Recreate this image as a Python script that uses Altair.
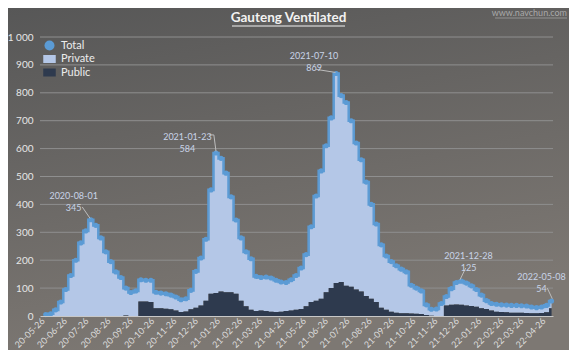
import altair as alt
import pandas as pd

# ---------------- data (weekly readings, Saturdays) ----------------
first_week = "2020-05-30"
total = [5, 8, 22, 50, 95, 145, 200, 262, 305, 345,
         325, 280, 230, 195, 158, 138, 100, 84, 90, 130,
         128, 128, 85, 82, 80, 75, 68, 58, 62, 92,
         160, 208, 275, 452, 584, 565, 512, 427, 344, 280,
         230, 205, 142, 138, 140, 136, 128, 122, 120, 130,
         145, 172, 220, 320, 430, 520, 610, 710, 869, 790,
         765, 700, 620, 560, 480, 400, 330, 255, 215, 195,
         180, 168, 158, 110, 100, 90, 40, 24, 25, 45,
         70, 98, 120, 125, 118, 108, 95, 75, 55, 45,
         42, 40, 39, 38, 38, 37, 36, 32, 30, 32,
         38, 54]
public = [0, 0, 0, 0, 0, 0, 0, 0, 0, 0,
          0, 0, 0, 0, 0, 0, 2, 0, 0, 52,
          52, 50, 28, 28, 26, 24, 20, 14, 16, 24,
          30, 38, 55, 80, 82, 88, 85, 85, 80, 55,
          35, 22, 18, 20, 18, 15, 14, 15, 18, 20,
          22, 25, 35, 50, 55, 62, 85, 100, 118, 122,
          108, 105, 95, 88, 72, 62, 50, 30, 22, 15,
          12, 10, 10, 9, 8, 7, 4, 1, 0, 0,
          38, 40, 41, 40, 38, 36, 33, 28, 25, 20,
          15, 14, 13, 12, 12, 12, 11, 10, 10, 11,
          13, 28]

series_names = ["Total", "Private", "Public"]
series_colors = ["#5b9bd5", "#b4c7e7", "#2e3a4e"]
RECT = "M-1.25,-0.8H1.25V0.8H-1.25Z"
series_shapes = ["circle", RECT, RECT]

y_ticks = [0, 100, 200, 300, 400, 500, 600, 700, 800, 900, 1000]

ann_dates = ["2020-08-01", "2021-01-23", "2021-07-10", "2021-12-28", "2022-05-08"]
ann_values = [345, 584, 869, 125, 54]
ann_label_dates = ["2020-07-08", "2020-12-14", "2021-06-09", "2022-01-11", "2022-04-23"]
ann_label_values = [430, 641, 933, 215, 140]

leader_ids = [1, 1, 2, 2, 2, 3, 3, 4, 4, 5, 5]
leader_dates = ["2020-07-20", "2020-07-31",
                "2021-01-13", "2021-01-20", "2021-01-23",
                "2021-06-12", "2021-07-09",
                "2022-01-07", "2021-12-30",
                "2022-05-01", "2022-05-08"]
leader_values = [391, 350,
                 649, 649, 590,
                 884, 873,
                 172, 130,
                 100, 62]

# ---------------- tables ----------------
dates = pd.date_range(first_week, periods=len(total), freq="7D")
df = pd.DataFrame({
    "date": dates,
    "total": total,
    "public": public,
})
ann_df = pd.DataFrame({
    "date": pd.to_datetime(ann_dates),
    "value": ann_values,
    "ldate": pd.to_datetime(ann_label_dates),
    "lvalue": ann_label_values,
    "label": [d + "\n" + str(v) for d, v in zip(ann_dates, ann_values)],
})
lead_df = pd.DataFrame({
    "id": leader_ids,
    "seq": list(range(len(leader_ids))),
    "date": pd.to_datetime(leader_dates),
    "value": leader_values,
})
grid_df = pd.DataFrame({"v": y_ticks[1:]})

W, H = 513, 279
PAD = {"left": 32, "top": 29, "right": 16, "bottom": 34}
FONT = "Lato"

tick_months = pd.date_range("2020-05-26", "2022-04-26", freq=pd.DateOffset(months=1))
x_tick_values = [alt.DateTime(year=int(t.year), month=int(t.month), date=int(t.day)) for t in tick_months]

xscale = alt.Scale(domain=[alt.DateTime(year=2020, month=5, date=22),
                           alt.DateTime(year=2022, month=5, date=9)])
yscale = alt.Scale(domain=[0, 1000], nice=False)

xaxis = alt.Axis(title=None, values=x_tick_values, format="%y-%m-%d", labelAngle=315,
                 labelAlign="right", labelBaseline="middle", labelPadding=3,
                 labelColor="#dcdcdc", labelFont=FONT, labelFontSize=9,
                 ticks=False, domain=True, domainColor="#c8c8c8", domainWidth=1,
                 grid=False, zindex=1, labelOverlap=False, labelBound=False)
yaxis = alt.Axis(title=None, values=y_ticks, grid=False, ticks=False, domain=False,
                 labelColor="#e6e6e6", labelFont=FONT, labelFontSize=10, labelPadding=7,
                 labelExpr="replace(format(datum.value, ','), ',', ' ')", zindex=1,
                 labelOverlap=False)


def X(field, **kw):
    return alt.X(field, scale=xscale, axis=xaxis, **kw)


def Y(field, **kw):
    return alt.Y(field, scale=yscale, axis=yaxis, **kw)


color_scale = alt.Scale(domain=series_names, range=series_colors)
shape_scale = alt.Scale(domain=series_names, range=series_shapes)
legend = alt.Legend(title=None, orient="none", legendX=4, legendY=3,
                    labelColor="#ececec", labelFont=FONT, labelFontSize=11,
                    symbolSize=100, symbolStrokeWidth=0, rowPadding=1.5, labelOffset=6)

gradient = alt.LinearGradient(
    gradient="linear",
    stops=[alt.GradientStop(color="#575757", offset=0),
           alt.GradientStop(color="#7d7873", offset=1)],
    x1=0, x2=0.3, y1=0, y2=1)

bg = alt.Chart(pd.DataFrame({"k": [0]})).mark_rect(fill=gradient).encode(
    x=alt.value(-PAD["left"]), x2=alt.value(W + PAD["right"]),
    y=alt.value(-PAD["top"]), y2=alt.value(H + PAD["bottom"]))

grid = alt.Chart(grid_df).mark_rule(color="#8f8f8f", strokeWidth=1).encode(
    y=Y("v:Q"))

base = alt.Chart(df)

private_area = base.mark_area(
    interpolate="step", color=series_colors[1], opacity=1).encode(
    x=X("date:T"),
    y=Y("total:Q"), y2="public:Q")

public_area = base.mark_area(
    interpolate="step", color=series_colors[2], opacity=1).encode(
    x=X("date:T"),
    y=Y("public:Q"), y2=alt.datum(0))

total_edge = base.mark_line(
    interpolate="step", color=series_colors[0], strokeWidth=2.6, opacity=0.95).encode(
    x=X("date:T"),
    y=Y("total:Q"))

points = base.transform_calculate(series="'Total'").mark_point(
    filled=True, size=26, opacity=1).encode(
    x=X("date:T"),
    y=Y("total:Q"),
    color=alt.Color("series:N", scale=color_scale, legend=legend),
    shape=alt.Shape("series:N", scale=shape_scale, legend=legend))

leaders = alt.Chart(lead_df).mark_line(color="#bdbdbd", strokeWidth=1).encode(
    x=X("date:T"),
    y=Y("value:Q"),
    detail="id:N", order="seq:Q")

ann_text = alt.Chart(ann_df).mark_text(
    lineBreak="\n", lineHeight=12, font=FONT, fontSize=9, color="#c9d4e8",
    align="center", baseline="middle").encode(
    x=X("ldate:T"),
    y=Y("lvalue:Q"),
    text="label:N")

one = pd.DataFrame({"k": [0]})
title = alt.Chart(one).mark_text(
    text="Gauteng Ventilated", font=FONT, fontSize=13.5, fontWeight="bold",
    color="#f2f2f2", align="center", baseline="middle").encode(
    x=alt.value(248.5), y=alt.value(-19))
title_ul = alt.Chart(one).mark_rule(color="#f2f2f2", strokeWidth=1).encode(
    x=alt.value(192), x2=alt.value(305), y=alt.value(-11))
site = alt.Chart(one).mark_text(
    text="www.navchun.com", font=FONT, fontSize=9, color="#a9a9a9",
    align="right", baseline="middle").encode(x=alt.value(527), y=alt.value(-24))
site_ul = alt.Chart(one).mark_rule(color="#a9a9a9", strokeWidth=0.7).encode(
    x=alt.value(455), x2=alt.value(527), y=alt.value(-19))

chart = alt.layer(
    bg, grid, private_area, public_area, total_edge, points, leaders, ann_text,
    title, title_ul, site, site_ul
).properties(
    width=W, height=H,
    autosize=alt.AutoSizeParams(type="none"),
    padding=PAD,
    background="#686664",
).configure_view(stroke=None)

chart.save("out.html", embed_options={"renderer": "svg", "actions": False})
